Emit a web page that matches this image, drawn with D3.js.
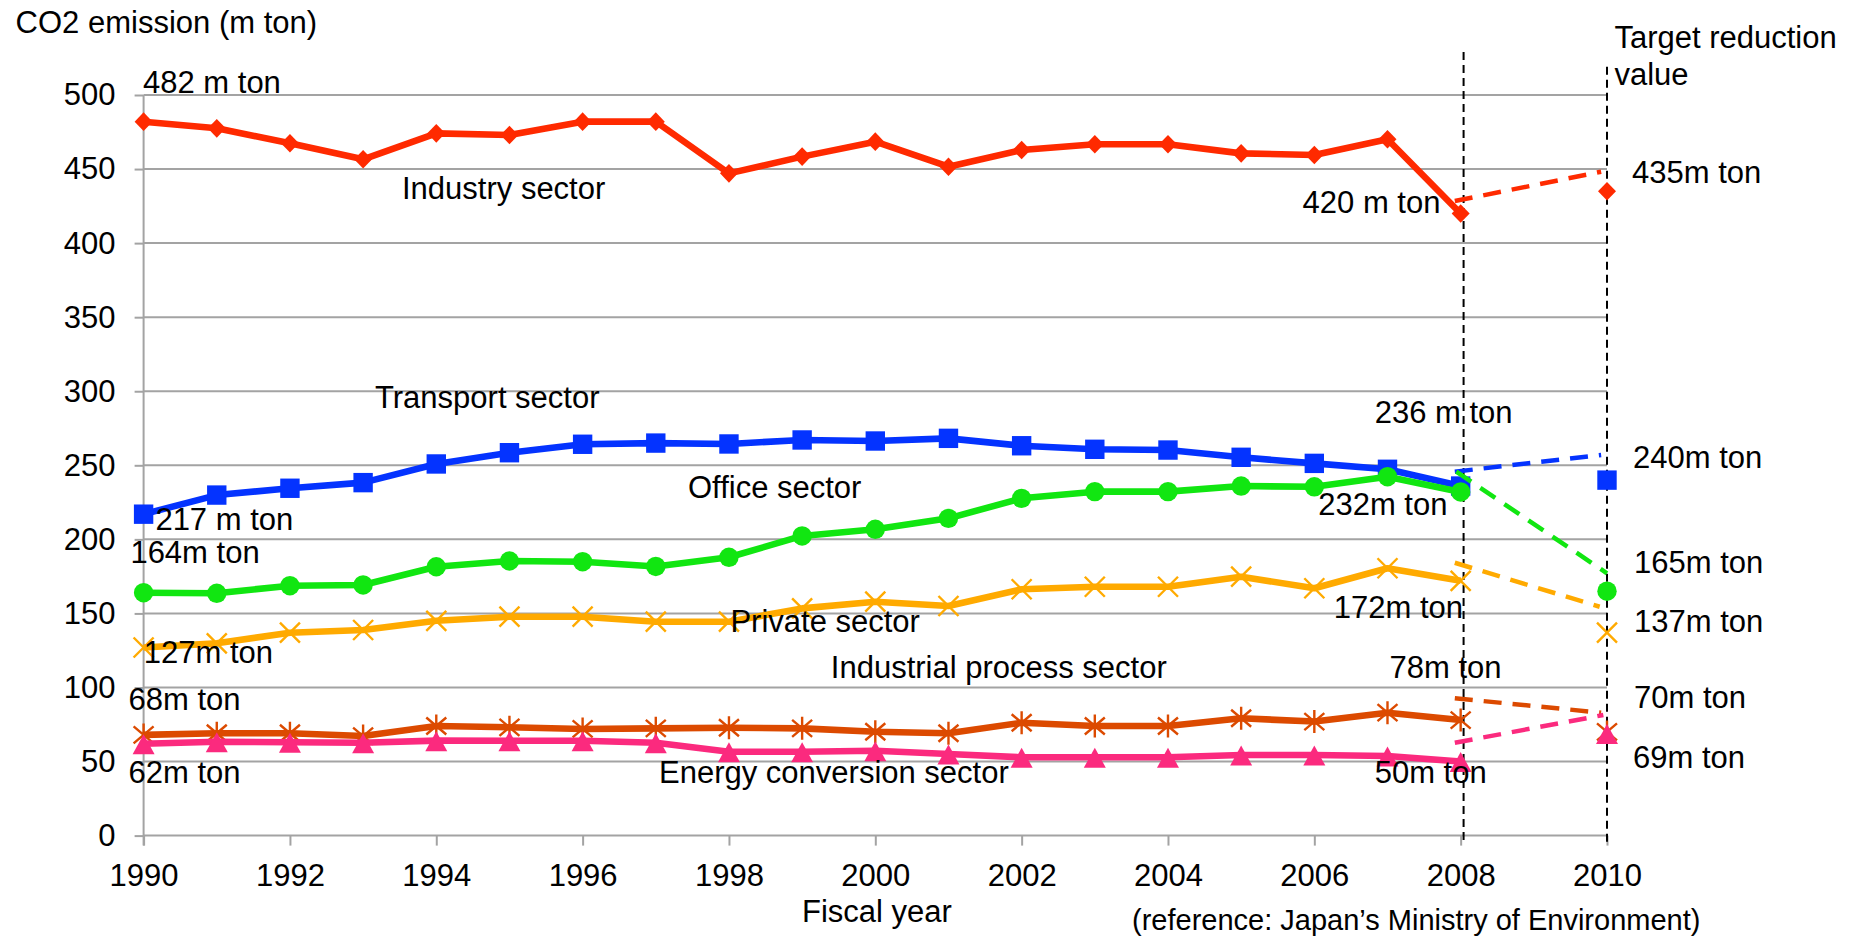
<!DOCTYPE html>
<html><head><meta charset="utf-8">
<script src="https://cdn.jsdelivr.net/npm/d3@7"></script>
<style>
html,body{margin:0;padding:0;background:#fff;}
svg text{font-family:"Liberation Sans", Arial, Helvetica, sans-serif; fill:#000;}
</style></head><body>
<svg id="chart" width="1861" height="937"></svg>
<script>
// ---------------- DATA ----------------
const years = [1990,1991,1992,1993,1994,1995,1996,1997,1998,1999,2000,2001,2002,2003,2004,2005,2006,2007,2008];
const industry = [482,477.5,467.4,456.6,474.1,473,482,482,447.1,458.4,468.5,451.6,462.9,466.7,466.7,460.6,459.5,470.1,420];
const transport = [217,229.9,234.5,238.3,250.9,258.5,264.2,265,264.4,267.1,266.4,268.2,263.2,260.8,260.3,255.4,251.3,247.3,236];
const office = [164,163.6,168.7,169.2,181.5,185.4,184.9,181.7,187.9,202.3,206.8,214.2,227.7,232.2,232.2,236,235.5,242.3,232];
const privateSector = [127,129.8,137,138.8,145,147.8,147.8,144.4,144.4,153.4,157.9,155,166.3,168,168,174.8,167,180.5,172];
const industrialProcess = [68,69.1,69.1,67.2,74,73.1,72,72.4,72.8,72.4,70.1,69.1,76.2,74,74,79.2,77,83,78];
const energyConversion = [62,63.4,63,62.7,64.1,64,64,62.7,56.6,56.6,57.3,55.1,52.9,52.9,52.9,54.4,54.4,53.7,50];

const seriesNames = ["Industry sector","Transport sector","Office sector","Private sector","Industrial process sector","Energy conversion sector"];
const targetYear = 2010;
const targetValues = [435,240,165,137,70,69];
// dashed projection segments (value at start and end)
const dashStartYear = [2007.92,2007.92,2007.94,2007.92,2007.92,2007.92];
const dashEndYear = [2009.92,2009.92,2010,2009.9,2009.92,2009.95];
const dashFrom = [428.4,245.7,245.7,184.2,92.7,62.7];
const dashTo = [448.2,257,177.1,154.5,83,81.4];

const yTicks = [0,50,100,150,200,250,300,350,400,450,500];
const xTicks = [1990,1992,1994,1996,1998,2000,2002,2004,2006,2008,2010];
const refLineYears = [2008.04,2010];
const refLineTop = [529,519];
const refLineBottom = -6.4;

// ---------------- STYLE ----------------
const colors = ["#ff2a00","#0433ff","#11e611","#ffaa00","#dc4a00","#fb2a7e"];
const markers = ["diamond","square","circle","x","asterisk","triangle"];
const allSeries = [industry,transport,office,privateSector,industrialProcess,energyConversion];

const svg = d3.select('#chart');
const x = d3.scaleLinear().domain([1990,2010]).range([143.6,1607]);
const y = d3.scaleLinear().domain([0,500]).range([835.6,95]);
const gridColor = "#a3a3a3";
const FONT = '"Liberation Sans", Arial, Helvetica, sans-serif';

// gridlines
svg.append('g').selectAll('line').data(yTicks).join('line')
  .attr('x1', x(1990)).attr('x2', x(2010))
  .attr('y1', d => y(d)).attr('y2', d => y(d))
  .attr('stroke', gridColor).attr('stroke-width', 2);

// y axis vertical line
svg.append('line').attr('x1', x(1990)).attr('x2', x(1990))
  .attr('y1', y(500)).attr('y2', y(0) + 10)
  .attr('stroke', gridColor).attr('stroke-width', 2);

// y axis
const yAxis = svg.append('g').attr('transform', `translate(${x(1990)},0)`)
  .call(d3.axisLeft(y).tickValues(yTicks).tickSize(9).tickPadding(19).tickSizeOuter(0));
yAxis.attr('font-size', 31).attr('font-family', FONT);
yAxis.select('.domain').remove();
yAxis.selectAll('line').attr('stroke', gridColor).attr('stroke-width', 2);
yAxis.selectAll('text').attr('fill', '#000');

// x axis
const xAxis = svg.append('g').attr('transform', `translate(0,${y(0)})`)
  .call(d3.axisBottom(x).tickValues(xTicks).tickSize(10).tickSizeOuter(0).tickFormat(d3.format('d')));
xAxis.attr('font-size', 31).attr('font-family', FONT);
xAxis.select('.domain').remove();
xAxis.selectAll('line').attr('stroke', gridColor).attr('stroke-width', 2);
xAxis.selectAll('text').attr('fill', '#000').attr('y', 50.4).attr('dy', 0);

// vertical reference dashed lines
svg.append('g').selectAll('line').data(refLineYears).join('line')
  .attr('x1', d => x(d)).attr('x2', d => x(d))
  .attr('y1', (d,i) => y(refLineTop[i])).attr('y2', y(refLineBottom))
  .attr('stroke', '#000').attr('stroke-width', 2).attr('stroke-dasharray', '8,5');

// marker shapes
function markerPath(type) {
  switch(type) {
    case 'diamond': return 'M0,-9.3L9,0L0,9.3L-9,0Z';
    case 'square': return 'M-9.7,-9.7H9.7V9.7H-9.7Z';
    case 'triangle': return 'M0,-9.5L11,10.5L-11,10.5Z';
    case 'x': return 'M-10,-10L10,10M10,-10L-10,10';
    case 'asterisk': return 'M-10,-8.5L10,8.5M10,-8.5L-10,8.5M0,-11.5V11.5';
  }
}
function drawMarker(g, type, cx, cy, color) {
  if (type === 'circle') {
    g.append('circle').attr('cx', cx).attr('cy', cy).attr('r', 9.7).attr('fill', color);
  } else if (type === 'x' || type === 'asterisk') {
    g.append('path').attr('d', markerPath(type)).attr('transform', `translate(${cx},${cy})`)
      .attr('fill', 'none').attr('stroke', color).attr('stroke-width', 2.4);
  } else {
    g.append('path').attr('d', markerPath(type)).attr('transform', `translate(${cx},${cy})`).attr('fill', color);
  }
}

const line = d3.line().x((d,i) => x(years[i])).y(d => y(d));

allSeries.forEach((vals, s) => {
  const g = svg.append('g').attr('class', 'series').attr('data-name', seriesNames[s]);
  g.append('path').attr('d', line(vals)).attr('fill', 'none')
    .attr('stroke', colors[s]).attr('stroke-width', 6.6).attr('stroke-linejoin', 'round');
  vals.forEach((v, i) => drawMarker(g, markers[s], x(years[i]), y(v), colors[s]));
  // target point
  drawMarker(g, markers[s], x(targetYear), y(targetValues[s]), colors[s]);
});

// dashed projection lines
allSeries.forEach((vals, s) => {
  svg.append('line')
    .attr('x1', x(dashStartYear[s])).attr('y1', y(dashFrom[s]))
    .attr('x2', x(dashEndYear[s])).attr('y2', y(dashTo[s]))
    .attr('stroke', colors[s]).attr('stroke-width', 4.5).attr('stroke-dasharray', '18,11');
});

// annotations (text, left x, baseline y, size)
const annotations = [
  ["CO2 emission (m ton)", 15.6, 33.3, 31],
  ["482 m ton", 143, 93.3, 31],
  ["Industry sector", 402, 199, 31],
  ["Target reduction", 1614.4, 48.3, 31],
  ["value", 1614.4, 85, 31],
  ["420 m ton", 1302.6, 213.3, 31],
  ["435m ton", 1632, 183.3, 31],
  ["Transport sector", 375, 408.3, 31],
  ["217 m ton", 155.4, 530, 31],
  ["164m ton", 130.4, 563.3, 31],
  ["Office sector", 688, 498.3, 31],
  ["Private sector", 730.4, 631.7, 31],
  ["236 m ton", 1374.7, 423.3, 31],
  ["232m ton", 1318.2, 515, 31],
  ["172m ton", 1333.8, 618.3, 31],
  ["240m ton", 1633, 468.3, 31],
  ["165m ton", 1634, 573.3, 31],
  ["137m ton", 1634, 631.7, 31],
  ["127m ton", 143.75, 663.3, 31],
  ["68m ton", 128.6, 710, 31],
  ["62m ton", 128.6, 783.3, 31],
  ["Industrial process sector", 830.8, 678.3, 31],
  ["Energy conversion sector", 659, 783.3, 31],
  ["78m ton", 1389.5, 678.3, 31],
  ["70m ton", 1634, 708.3, 31],
  ["69m ton", 1633, 768.3, 31],
  ["50m ton", 1374.7, 783.3, 31],
  ["Fiscal year", 802, 921.5, 31],
  ["(reference: Japan\u2019s Ministry of Environment)", 1132, 930, 29]
];
svg.append('g').selectAll('text').data(annotations).join('text')
  .attr('x', d => d[1]).attr('y', d => d[2])
  .attr('font-size', d => d[3]).attr('font-family', FONT)
  .text(d => d[0]);
</script>
</body></html>
